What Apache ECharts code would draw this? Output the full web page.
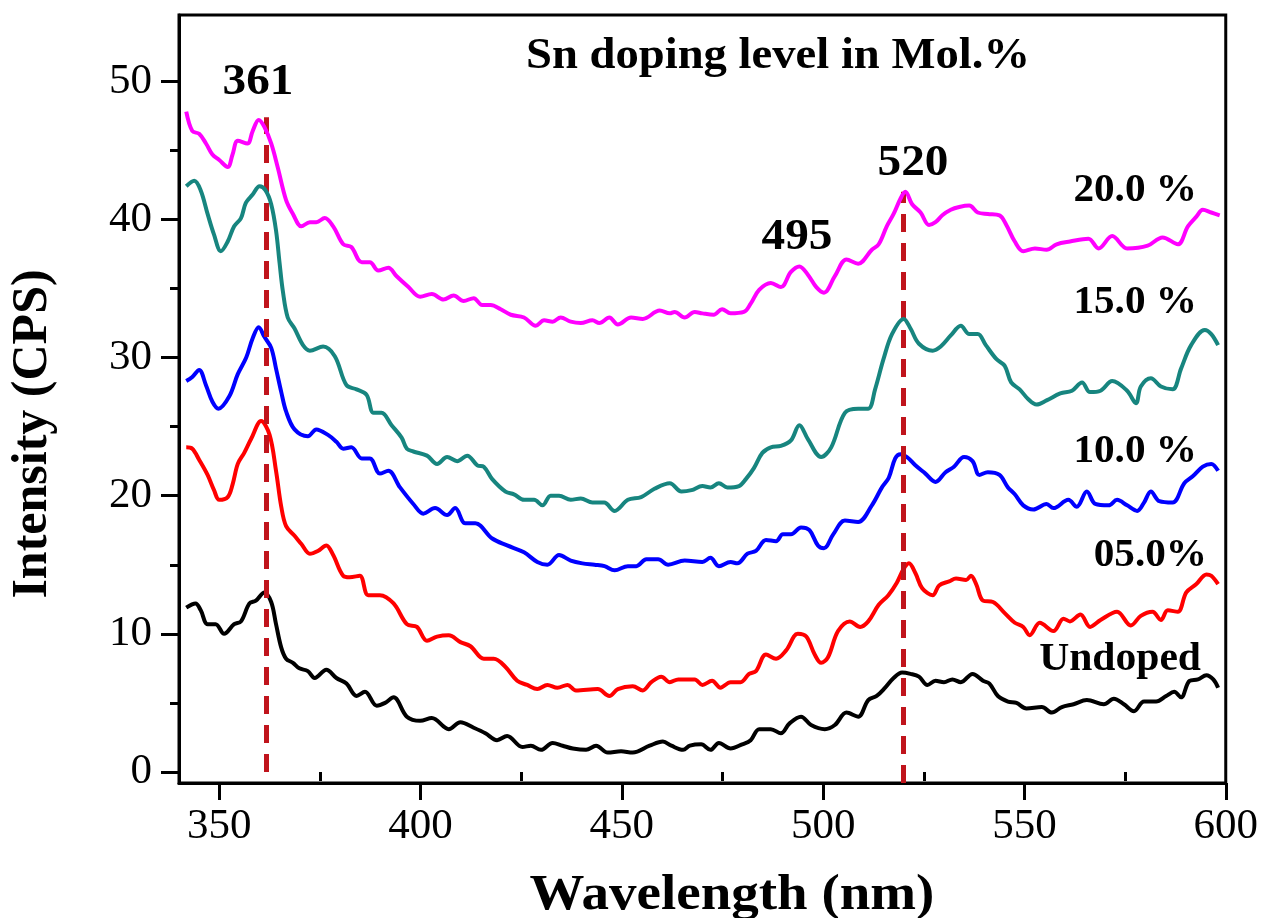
<!DOCTYPE html>
<html><head><meta charset="utf-8">
<script src="https://cdn.jsdelivr.net/npm/echarts@6/dist/echarts.min.js"></script>
<style>html,body{margin:0;padding:0;background:#fff}#c{width:1261px;height:918px}</style>
</head><body><div id="c"></div>
<script>
// ---- data (wavelength nm, intensity CPS) ----
const xTicks = [350, 400, 450, 500, 550, 600];
const xMinor = [375, 425, 475, 525, 575];
const yTicks = [0, 10, 20, 30, 40, 50];
const yMinor = [5, 15, 25, 35, 45];

const undoped = [[341.8,11.9],[344.1,12.2],[345.4,11.7],[347.1,10.7],[349.1,10.7],[351.2,10.0],[353.7,10.7],[355.4,10.9],[357.5,12.2],[359.1,12.4],[361.2,13.0],[362.9,12.3],[364.1,10.7],[365.4,9.0],[366.6,8.2],[368.3,7.9],[369.9,7.5],[372.0,7.3],[373.7,6.8],[376.6,7.4],[379.1,6.8],[381.6,6.4],[384.1,5.5],[386.2,5.8],[389.1,4.8],[391.2,5.0],[393.3,5.4],[396.6,4.0],[399.9,3.7],[402.8,3.9],[407.0,3.1],[409.9,3.6],[413.2,3.2],[416.1,2.8],[419.0,2.3],[421.5,2.6],[425.3,1.8],[427.4,1.9],[429.9,1.6],[432.8,2.1],[435.3,1.9],[437.8,1.7],[441.1,1.6],[443.6,1.9],[446.5,1.4],[449.8,1.5],[452.7,1.4],[456.9,1.9],[460.2,2.2],[462.3,1.9],[465.2,1.6],[466.9,1.9],[469.7,2.0],[472.0,1.6],[474.1,2.1],[477.0,1.7],[479.9,2.0],[482.0,2.3],[484.1,3.1],[487.0,3.1],[489.5,2.8],[491.6,3.5],[494.5,4.0],[497.0,3.4],[500.4,3.1],[502.9,3.4],[505.8,4.3],[508.7,4.0],[511.2,5.2],[513.3,5.5],[515.4,6.1],[517.5,6.8],[519.6,7.2],[521.7,7.1],[523.8,6.9],[525.9,6.3],[527.9,6.6],[530.0,6.5],[532.1,6.7],[534.2,6.5],[537.1,7.1],[539.7,6.6],[541.3,6.4],[543.4,5.5],[545.9,5.1],[548.0,5.0],[550.5,4.6],[554.3,4.7],[556.8,4.3],[559.3,4.7],[562.2,4.9],[565.5,5.2],[569.7,4.9],[572.2,5.3],[574.7,4.9],[577.2,4.4],[579.7,5.1],[582.7,5.1],[585.2,5.5],[587.2,5.8],[588.9,5.4],[591.0,6.6],[593.1,6.7],[595.2,7.0],[596.9,6.7],[598.1,6.1]];

const sn05 = [[341.8,23.5],[343.3,23.4],[345.0,22.6],[347.1,21.5],[348.7,20.4],[350.0,19.7],[352.1,19.9],[353.3,20.8],[354.6,22.3],[356.2,23.1],[357.9,24.1],[360.4,25.4],[362.5,24.4],[364.1,21.8],[365.4,19.2],[366.6,17.8],[368.7,17.1],[370.4,16.5],[372.5,15.8],[374.5,16.0],[376.6,16.4],[378.3,15.7],[380.8,14.2],[382.4,14.1],[384.9,14.2],[387.0,12.8],[389.9,12.8],[393.3,12.2],[396.6,10.7],[399.1,10.5],[401.6,9.5],[404.1,9.8],[407.0,9.9],[409.9,9.4],[412.4,9.1],[415.7,8.2],[418.2,8.2],[421.1,7.6],[424.0,6.6],[426.5,6.3],[429.0,6.0],[431.5,6.3],[434.0,6.1],[436.5,6.3],[438.6,5.9],[444.0,6.0],[446.9,5.5],[449.0,6.0],[452.7,6.2],[455.2,5.9],[457.3,6.5],[459.8,6.9],[461.9,6.5],[464.0,6.7],[468.1,6.7],[470.0,6.3],[472.4,6.6],[474.5,6.1],[477.0,6.5],[479.5,6.5],[481.6,7.1],[483.3,7.3],[485.8,8.5],[488.3,8.2],[490.8,8.8],[493.7,10.0],[495.8,9.8],[497.9,8.5],[499.5,7.9],[501.2,8.3],[503.7,10.2],[506.6,10.9],[509.2,10.5],[511.2,10.9],[513.8,12.1],[516.2,12.8],[518.3,13.7],[520.0,14.7],[521.3,15.1],[522.9,14.4],[524.6,13.3],[527.2,12.8],[528.8,13.5],[531.3,13.8],[533.0,14.0],[535.5,13.9],[536.7,14.2],[538.0,13.6],[539.7,12.4],[542.2,12.3],[545.1,11.5],[547.6,10.8],[549.7,10.5],[551.3,9.9],[553.8,10.8],[557.2,10.2],[559.7,11.1],[561.3,10.9],[563.9,11.4],[566.3,10.5],[568.9,11.0],[573.0,11.6],[576.4,10.6],[578.9,11.3],[581.8,11.6],[583.9,11.0],[585.6,11.7],[588.1,11.6],[590.2,13.0],[592.7,13.6],[595.2,14.3],[596.4,14.2],[598.1,13.6]];

const sn10 = [[341.8,28.3],[343.3,28.6],[345.0,29.1],[346.7,28.0],[348.3,26.8],[349.8,26.3],[352.5,27.2],[354.6,28.8],[356.7,30.0],[358.3,31.4],[359.8,32.2],[361.2,31.5],[362.9,30.7],[364.1,29.2],[365.4,27.5],[366.6,26.1],[368.7,24.8],[372.0,24.3],[374.1,24.8],[377.0,24.4],[379.1,23.9],[380.8,23.4],[382.8,23.5],[385.4,22.7],[387.4,22.7],[389.9,21.6],[392.0,21.8],[394.9,20.6],[398.2,19.4],[400.7,18.7],[403.6,19.1],[406.6,18.6],[408.6,19.1],[411.1,18.0],[413.6,18.0],[417.8,16.9],[421.5,16.4],[425.7,15.9],[429.0,15.2],[431.5,15.0],[434.4,15.7],[437.3,15.3],[440.2,15.1],[443.2,15.0],[445.7,14.9],[448.2,14.6],[451.5,14.9],[453.6,14.9],[456.1,15.4],[459.0,15.4],[461.5,15.0],[465.6,15.3],[470.0,15.2],[472.0,15.5],[474.1,14.9],[477.0,15.2],[478.7,15.1],[481.2,15.8],[483.3,16.0],[485.8,16.8],[488.3,16.7],[490.0,17.2],[492.0,17.2],[494.5,17.7],[496.6,17.5],[498.7,16.4],[500.2,16.2],[502.5,17.2],[505.4,18.2],[508.7,18.1],[512.1,19.3],[514.6,20.6],[516.3,21.3],[517.9,22.7],[519.2,23.0],[520.8,22.8],[522.9,22.2],[525.4,21.6],[527.9,21.0],[530.4,21.7],[532.5,22.1],[535.0,22.8],[537.1,22.5],[538.8,21.5],[540.9,21.7],[543.8,21.5],[545.9,20.6],[547.6,20.1],[549.7,19.3],[552.2,19.0],[555.5,19.4],[557.2,19.1],[560.9,19.7],[563.0,19.2],[565.5,20.3],[567.6,19.4],[570.9,19.3],[573.0,19.7],[575.5,19.3],[578.0,18.9],[579.7,19.5],[581.4,20.3],[583.5,19.6],[586.8,19.5],[589.7,20.9],[591.8,21.4],[594.3,22.1],[596.4,22.3],[598.1,21.8]];

const sn15 = [[341.8,42.4],[343.8,42.8],[345.4,42.1],[347.1,40.4],[348.7,38.9],[350.4,37.7],[352.1,38.4],[353.7,39.5],[355.4,40.1],[356.6,41.2],[358.3,41.8],[360.0,42.4],[361.5,42.1],[362.9,41.1],[364.1,39.2],[365.0,36.8],[365.8,34.8],[367.0,32.9],[368.7,32.1],[370.8,30.9],[372.5,30.5],[375.8,30.8],[378.7,30.1],[381.6,28.0],[384.1,27.7],[386.6,27.3],[388.3,26.0],[390.3,26.0],[392.8,25.1],[395.3,24.2],[396.6,23.4],[398.2,23.2],[401.6,22.9],[404.1,22.3],[406.6,22.8],[409.1,22.5],[411.6,22.9],[414.1,22.2],[415.7,22.1],[417.8,21.2],[421.1,20.3],[423.2,20.1],[425.7,19.7],[428.2,19.7],[430.3,19.3],[432.3,20.0],[434.4,20.0],[437.3,19.7],[439.8,19.8],[442.7,19.5],[445.6,19.5],[448.2,18.9],[451.5,19.7],[454.8,19.9],[458.1,20.5],[461.9,20.9],[464.8,20.3],[467.3,20.4],[470.0,20.7],[472.0,20.6],[474.1,20.9],[476.2,20.6],[479.1,20.7],[480.8,21.2],[482.8,22.0],[484.9,23.1],[487.0,23.5],[489.5,23.6],[492.0,24.0],[494.1,25.1],[496.2,24.1],[499.5,22.8],[502.0,23.5],[505.4,26.0],[508.7,26.3],[511.2,26.3],[512.9,27.7],[515.0,29.9],[517.1,31.7],[520.0,32.8],[521.7,32.1],[523.8,31.0],[527.2,30.5],[529.2,30.8],[531.7,31.6],[534.2,32.3],[536.3,31.7],[538.4,31.7],[540.4,30.9],[543.0,29.9],[545.1,29.4],[546.7,28.2],[548.8,27.7],[550.9,27.0],[553.0,26.6],[555.5,26.9],[558.9,27.4],[561.8,27.6],[564.3,28.2],[566.3,27.5],[568.9,27.6],[571.8,28.3],[575.5,27.6],[577.7,26.7],[578.9,27.9],[581.4,28.5],[583.9,27.9],[586.8,27.7],[588.9,29.2],[591.4,30.9],[594.8,32.0],[596.4,31.7],[598.1,30.9]];

const sn20 = [[341.8,47.8],[343.3,46.4],[345.0,46.2],[346.7,45.5],[348.3,44.7],[350.0,44.3],[352.1,43.8],[353.3,44.7],[354.6,45.7],[357.0,45.5],[358.3,46.4],[359.8,47.2],[361.2,46.7],[362.9,45.5],[364.5,43.8],[366.6,41.4],[368.3,40.4],[370.4,39.5],[372.5,39.8],[374.1,39.8],[376.2,40.1],[378.3,39.5],[380.8,38.2],[382.8,38.0],[385.4,36.9],[387.4,36.9],[389.5,36.3],[392.0,36.5],[394.0,35.9],[397.0,35.1],[399.9,34.4],[402.8,34.6],[405.7,34.2],[408.2,34.5],[410.7,34.1],[413.2,34.3],[415.3,33.8],[417.4,33.8],[419.9,33.5],[422.4,33.1],[425.7,32.9],[428.6,32.3],[430.7,32.7],[432.8,32.6],[434.8,32.9],[437.3,32.6],[439.8,32.5],[442.7,32.7],[444.4,32.5],[446.9,32.9],[449.0,32.4],[452.3,32.9],[455.2,32.8],[459.4,33.4],[461.9,33.2],[463.1,33.3],[465.6,32.9],[468.1,33.3],[470.0,33.2],[472.8,33.1],[474.9,33.5],[477.0,33.2],[480.3,33.3],[482.0,33.9],[484.1,34.9],[487.0,35.4],[489.5,35.1],[492.0,36.2],[494.1,36.6],[496.2,36.0],[498.3,35.1],[500.2,34.7],[502.9,35.9],[505.8,37.1],[508.7,36.8],[512.1,37.8],[513.8,38.2],[515.8,39.5],[517.5,40.4],[519.2,41.5],[520.4,42.0],[522.1,41.1],[524.2,40.5],[526.3,39.6],[527.9,39.8],[529.6,40.3],[531.7,40.7],[533.8,40.9],[536.3,41.0],[538.4,40.5],[540.9,40.4],[543.8,40.3],[545.5,39.6],[547.6,38.4],[549.7,37.7],[552.6,37.9],[555.5,37.8],[558.0,38.2],[561.3,38.4],[565.9,38.6],[568.4,37.9],[571.8,38.8],[575.5,37.9],[580.6,38.1],[584.3,38.7],[588.1,38.2],[590.6,39.5],[592.7,40.2],[594.3,40.7],[596.4,40.5],[598.5,40.3]];

const seriesNames = ['Undoped', '05.0%', '10.0 %', '15.0 %', '20.0 %'];
const seriesData = [undoped, sn05, sn10, sn15, sn20];
const seriesColors = ['#000000', '#FF0000', '#0000FF', '#17857F', '#FF00FF'];
// dashed peak markers: [wavelength, from, to]
const peakLines = [[361.6, 0, 47.4], [520, -0.8, 42.0]];

const FONT = '"Liberation Serif", "Times New Roman", serif';
const chart = echarts.init(document.getElementById('c'), null, {renderer: 'canvas'});

function label(t, x, y, align, fs, sx) {
  return {type: 'text', x: x, y: y, z: 100, silent: true, scaleX: sx || 1,
    style: {text: t, fill: '#000', fontFamily: FONT, fontWeight: 'bold', fontSize: fs, align: align, verticalAlign: 'middle'}};
}

const axisBase = (min, max) => ({type: 'value', min: min, max: max, splitLine: {show: false}});

const option = {
  animation: false,
  backgroundColor: '#fff',
  grid: {left: 179, right: 35, top: 15, bottom: 135, show: true, borderColor: '#000', borderWidth: 3, backgroundColor: 'transparent'},
  xAxis: [
    Object.assign(axisBase(340, 600), {position: 'bottom',
      axisLine: {show: true, onZero: false, lineStyle: {color: '#000', width: 3}},
      axisTick: {show: true, customValues: xTicks, length: 17, lineStyle: {color: '#000', width: 3}},
      axisLabel: {show: true, customValues: xTicks, margin: 22, color: '#000', fontFamily: FONT, fontSize: 43, formatter: v => String(v)}}),
    Object.assign(axisBase(340, 600), {position: 'bottom', offset: 0,
      axisLine: {show: false},
      axisTick: {show: true, customValues: xMinor, length: 9, lineStyle: {color: '#000', width: 3}},
      axisLabel: {show: false}})
  ],
  yAxis: [
    Object.assign(axisBase(-0.8, 54.8), {position: 'left',
      axisLine: {show: true, onZero: false, lineStyle: {color: '#000', width: 3}},
      axisTick: {show: true, customValues: yTicks, length: 18, lineStyle: {color: '#000', width: 3}},
      axisLabel: {show: true, customValues: yTicks, margin: 27, color: '#000', fontFamily: FONT, fontSize: 43, formatter: v => String(v)}}),
    Object.assign(axisBase(-0.8, 54.8), {position: 'left', offset: 0,
      axisLine: {show: false},
      axisTick: {show: true, customValues: yMinor, length: 9, lineStyle: {color: '#000', width: 3}},
      axisLabel: {show: false}})
  ],
  series: seriesData.map((d, i) => ({
    name: seriesNames[i], type: 'line', data: d, xAxisIndex: 0, yAxisIndex: 0,
    showSymbol: false, symbol: 'none', smooth: 0.35,
    lineStyle: {color: seriesColors[i], width: 4}, itemStyle: {color: seriesColors[i]},
    z: 2 + i
  })).concat([{
    type: 'line', data: [], xAxisIndex: 0, yAxisIndex: 0, z: 20,
    markLine: {silent: true, symbol: ['none', 'none'], label: {show: false},
      lineStyle: {color: '#C0141C', width: 5, type: [18, 11]},
      data: peakLines.map(p => [{coord: [p[0], p[1]]}, {coord: [p[0], p[2]]}])}
  }]),
  graphic: [
    label('361', 258, 82, 'center', 45, 1.05),
    label('495', 797, 237, 'center', 45, 1.05),
    label('520', 913, 163, 'center', 45, 1.05),
    label('Sn doping level in Mol.%', 778, 57, 'center', 44, 1.06),
    label('20.0 %', 1197, 191, 'right', 40, 1.03),
    label('15.0 %', 1197, 303, 'right', 40, 1.03),
    label('10.0 %', 1197, 452, 'right', 40, 1.03),
    label('05.0%', 1207, 556, 'right', 40, 1.03),
    label('Undoped', 1201, 660, 'right', 40, 1.04),
    label('Wavelength (nm)', 732, 896, 'center', 50, 1.1),
    Object.assign(label('Intensity (CPS)', 33, 434, 'center', 50, 1.0), {rotation: Math.PI / 2})
  ]
};
chart.setOption(option);
</script></body></html>
